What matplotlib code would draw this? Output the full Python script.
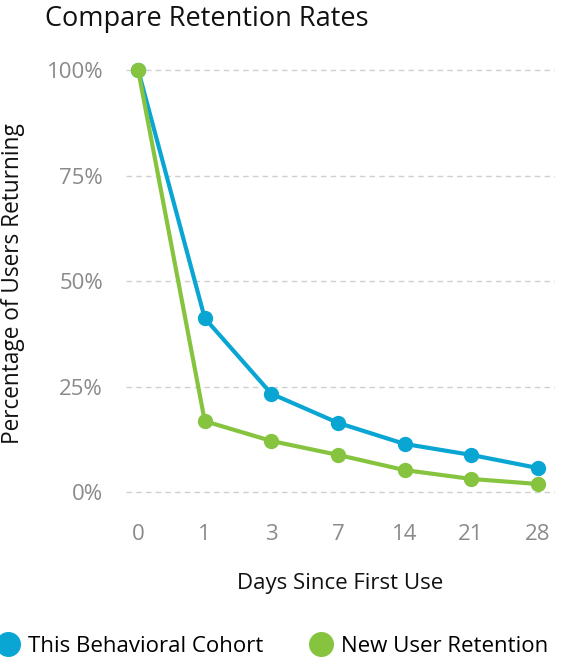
import matplotlib
matplotlib.use("Agg")
import matplotlib.pyplot as plt
from matplotlib.lines import Line2D

plt.rcParams['font.family'] = ['Open Sans', 'DejaVu Sans']

days = ["0", "1", "3", "7", "14", "21", "28"]
cohort = [100, 41.2, 23.3, 16.4, 11.4, 8.8, 5.7]
new_users = [100, 16.8, 12.1, 8.8, 5.2, 3.1, 1.9]
yticks = [0, 25, 50, 75, 100]
ytick_labels = ["0%", "25%", "50%", "75%", "100%"]

BLUE = "#0aa6d3"
GREEN = "#86c440"
W, H = 561, 663

fig = plt.figure(figsize=(W / 100, H / 100), dpi=100)
ax = fig.add_axes([126 / W, 1 - 505 / H, (555 - 126) / W, (505 - 55) / H])

x = list(range(len(days)))
ax.plot(x, cohort, color=BLUE, lw=3, marker="o", ms=10, zorder=3)
ax.plot(x, new_users, color=GREEN, lw=3, marker="o", ms=10, zorder=4)

ax.set_xlim(-0.183, 6.26)
ax.set_ylim(-3.08, 103.6)
ax.set_xticks(x)
ax.set_xticklabels(days)
ax.set_yticks(yticks)
ax.set_yticklabels(ytick_labels)
ax.tick_params(axis="both", length=0, colors="#8a8a8a", labelsize=16)
ax.tick_params(axis="y", pad=16.5)
ax.tick_params(axis="x", pad=14)
ax.grid(axis="y", color="#d0d0d0", linestyle=(0, (4, 3)), lw=1)
ax.set_axisbelow(True)
for s in ax.spines.values():
    s.set_visible(False)

ax.set_xlabel("Days Since First Use", fontsize=16, color="#111111", labelpad=20)
fig.text(13 / W, 1 - 284 / H, "Percentage of Users Returning", rotation=90,
         fontsize=16.3, color="#111111", ha="center", va="center")

fig.text(45 / W, 1 - 19 / H, "Compare Retention Rates", fontsize=19.5,
         color="#111111", ha="left", va="center")

handles = [
    Line2D([], [], color=BLUE, marker="o", ms=17, lw=0, label="This Behavioral Cohort"),
    Line2D([], [], color=GREEN, marker="o", ms=17, lw=0, label="New User Retention"),
]
fig.legend(handles=handles, loc="center left", bbox_to_anchor=(-3 / W, 1 - 646 / H),
           ncol=2, frameon=False, fontsize=16, handletextpad=0.4,
           columnspacing=2.1, handlelength=1.0, borderaxespad=0, borderpad=0)

fig.savefig("out.png", dpi=100)
